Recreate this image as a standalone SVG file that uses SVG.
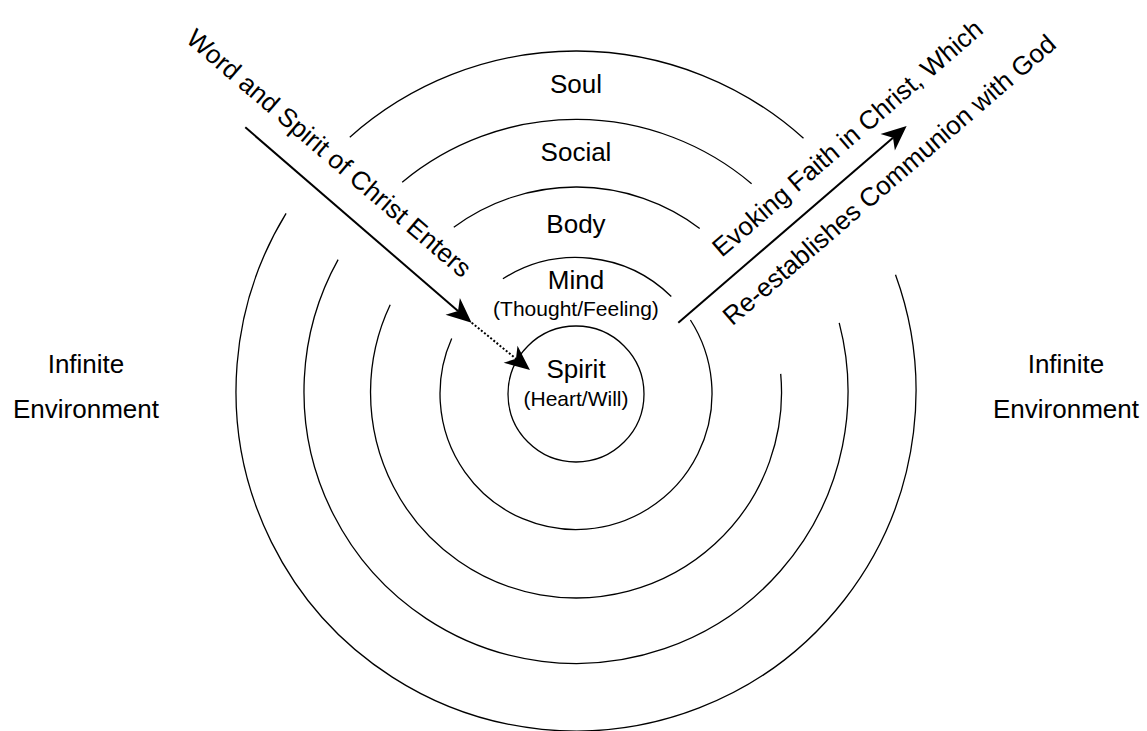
<svg xmlns="http://www.w3.org/2000/svg" width="1147" height="731" viewBox="0 0 1147 731">
<style>
.ring{fill:none;stroke:#000;stroke-width:1.3}
.lbl{font-family:"Liberation Sans",Arial,sans-serif;font-size:26px;fill:#000;text-anchor:middle}
.sub{font-family:"Liberation Sans",Arial,sans-serif;font-size:21px;fill:#000;text-anchor:middle}
.arr{fill:none;stroke:#000;stroke-width:2}
.dot{fill:none;stroke:#000;stroke-width:2;stroke-dasharray:2 2}
</style>
<defs>
<marker id="ah" markerUnits="userSpaceOnUse" orient="auto" overflow="visible" refX="0" refY="0" markerWidth="30" markerHeight="30">
<path d="M18,0 L-7,-11 L0,0 L-7,11 Z" fill="#000"/>
</marker>
</defs>
<rect width="1147" height="731" fill="#fff"/>
<g id="soul">
<path class="ring" d="M349.8,137.2 A340,340 0 0 1 803.5,138.3"/>
<path class="ring" d="M895.5,274.7 A340,340 0 1 1 286.1,213.4"/>
<text class="lbl" x="576" y="93">Soul</text>
</g>
<g id="social">
<path class="ring" d="M402.2,182.2 A272,272 0 0 1 751.6,183.7"/>
<path class="ring" d="M839.2,322.9 A272,272 0 1 1 338.1,259.6"/>
<text class="lbl" x="576" y="161">Social</text>
</g>
<g id="body">
<path class="ring" d="M453.8,227.3 A205.5,205.5 0 0 1 699.7,228.4"/>
<path class="ring" d="M780.7,373.9 A205.5,205.5 0 1 1 390.2,304.7"/>
<text class="lbl" x="576" y="233">Body</text>
</g>
<g id="mind">
<path class="ring" d="M502.9,278.8 A136,136 0 0 1 671.3,296.5"/>
<path class="ring" d="M690.4,320 A136,136 0 1 1 451.7,338.4"/>
<text class="lbl" x="576" y="289">Mind</text>
<text class="sub" x="576" y="316">(Thought/Feeling)</text>
</g>
<g id="spirit">
<circle class="ring" cx="576" cy="394" r="68"/>
<text class="lbl" x="576" y="378">Spirit</text>
<text class="sub" x="576" y="406">(Heart/Will)</text>
</g>
<g id="env-left">
<text class="lbl" x="86" y="373">Infinite</text>
<text class="lbl" x="86" y="418">Environment</text>
</g>
<g id="env-right">
<text class="lbl" x="1066" y="373">Infinite</text>
<text class="lbl" x="1066" y="418">Environment</text>
</g>
<g id="connectors">
<path class="arr" d="M245.3,127.3 L458,311" marker-end="url(#ah)"/>
<path class="dot" d="M471.7,322.7 L516,358.7" marker-end="url(#ah)"/>
<path class="arr" d="M678.3,322.7 L893,137.7" marker-end="url(#ah)"/>
<text class="lbl" transform="translate(323.3,159.9) rotate(40.6)">Word and Spirit of Christ Enters</text>
<text class="lbl" transform="translate(853.2,144.9) rotate(-40.7)">Evoking Faith in Christ, Which</text>
<text class="lbl" transform="translate(895,186.6) rotate(-40.7)">Re-establishes Communion with God</text>
</g>
</svg>
